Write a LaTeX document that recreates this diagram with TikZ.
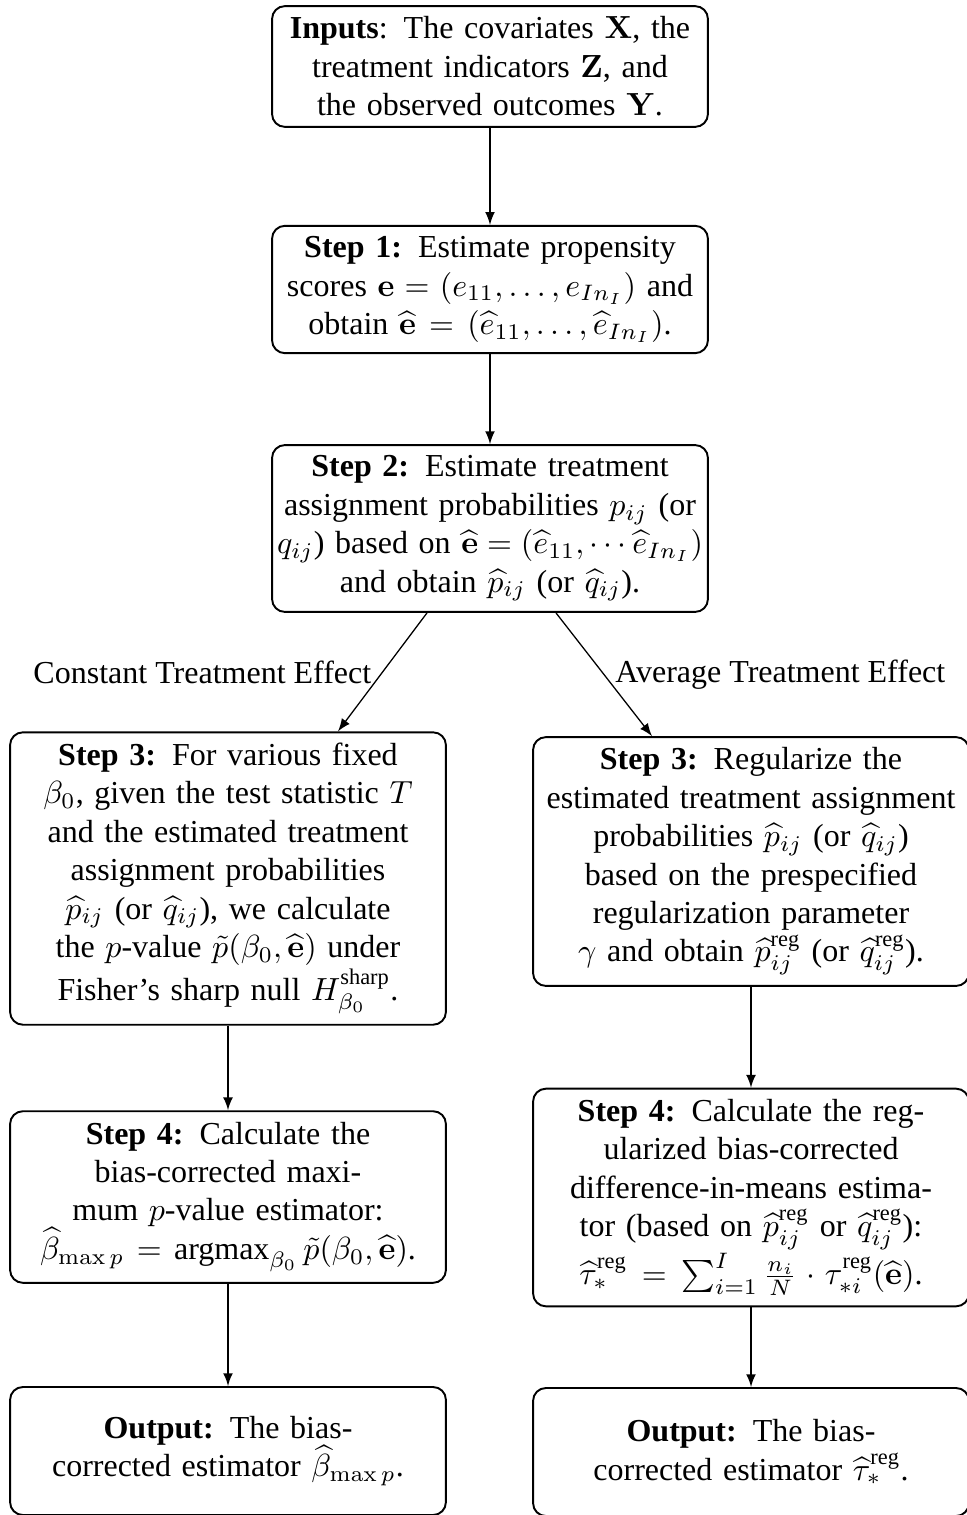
\documentclass[tikz,border=0pt]{standalone}
\usepackage{amsmath}
\usepackage[no-math]{fontspec}
\setmainfont{Liberation Serif}
\usetikzlibrary{calc,arrows}

\begin{document}
\begin{tikzpicture}[x=0.3125pt, y=-0.3125pt,
        stepbox/.style={draw, semithick, rounded corners, text width=133pt, inner xsep=1.6pt, align=center},
        flow/.style={-latex}]

        \useasboundingbox (0,0) rectangle (966,1515);

        % common part
        \node[stepbox] (inputs) at (490,66.5) {\textbf{Inputs}: The covariates $\mathbf{X}$, the\\ treatment indicators $\mathbf{Z}$, and\\ the observed outcomes $\mathbf{Y}$.};
        \node[stepbox] (step1) at (490,289.5) {\textbf{Step 1:} Estimate propensity\\ scores $\mathbf{e}=(e_{11},\ldots,e_{In_I})$ and\\ obtain $\widehat{\mathbf{e}}=(\widehat{e}_{11},\ldots,\widehat{e}_{In_I})$.};
        \node[stepbox] (step2) at (490,528.5) {\textbf{Step 2:} Estimate treatment\\ assignment probabilities $p_{ij}$ (or\\ \makebox[0pt]{$q_{ij}$) based on $\widehat{\mathbf{e}}=(\widehat{e}_{11},\cdots\widehat{e}_{In_I})$}\\ and obtain $\widehat{p}_{ij}$ (or $\widehat{q}_{ij}$).};

        % constant treatment effect
        \node[stepbox] (cte3) at (228,878.5) {\textbf{Step 3:} For various fixed\\ $\beta_0$, given the test statistic $T$\\ and the estimated treatment\\ assignment probabilities\\ $\widehat{p}_{ij}$ (or $\widehat{q}_{ij}$), we calculate\\ the $p$-value $\tilde{p}(\beta_0,\widehat{\mathbf{e}})$ under\\ Fisher's sharp null $H_{\beta_0}^{\text{sharp}}$.};
        \node[stepbox] (cte4) at (228,1197) {\textbf{Step 4:} Calculate the\\ bias-corrected maxi-\\ mum $p$-value estimator:\\ $\widehat{\beta}_{\max p} = \text{argmax}_{\beta_0}\,\tilde{p}(\beta_0,\widehat{\mathbf{e}})$.};
        \node[stepbox, minimum height=40pt] (cteout) at (228,1451) {\textbf{Output:} The bias-\\ corrected estimator $\widehat{\beta}_{\max p}$.};

        % average treatment effect
        \node[stepbox] (ate3) at (751,861.5) {\textbf{Step 3:} Regularize the\\ estimated treatment assignment\\ probabilities $\widehat{p}_{ij}$ (or $\widehat{q}_{ij}$)\\ based on the prespecified\\ regularization parameter\\ $\gamma$ and obtain $\widehat{p}_{ij}^{\text{reg}}$ (or $\widehat{q}_{ij}^{\text{reg}}$).};
        \node[stepbox] (ate4) at (751,1197.5) {\textbf{Step 4:} Calculate the reg-\\ ularized bias-corrected\\ difference-in-means estima-\\ tor (based on $\widehat{p}_{ij}^{\text{reg}}$ or $\widehat{q}_{ij}^{\text{reg}}$):\\ $\widehat{\tau}_*^{\text{reg}} = \sum_{i=1}^I \frac{n_i}{N}\cdot\tau_{*i}^{\text{reg}}(\widehat{\mathbf{e}})$.};
        \node[stepbox, minimum height=40pt] (ateout) at (751,1452) {\textbf{Output:} The bias-\\ corrected estimator $\widehat{\tau}_*^{\text{reg}}$.};

        % arrows
        \draw[flow] (inputs) -- (step1);
        \draw[flow] (step1) -- (step2);
        \draw[flow] ($(step2.south)+(-63,0)$) -- node[left] {Constant Treatment Effect} ($(cte3.north)+(110,0)$);
        \draw[flow] ($(step2.south)+(66,0)$) -- node[right] {Average Treatment Effect} ($(ate3.north)+(-99,0)$);
        \draw[flow] (cte3) -- (cte4);
        \draw[flow] (cte4) -- (cteout);
        \draw[flow] (ate3) -- (ate4);
        \draw[flow] (ate4) -- (ateout);
    \end{tikzpicture}
\end{document}
